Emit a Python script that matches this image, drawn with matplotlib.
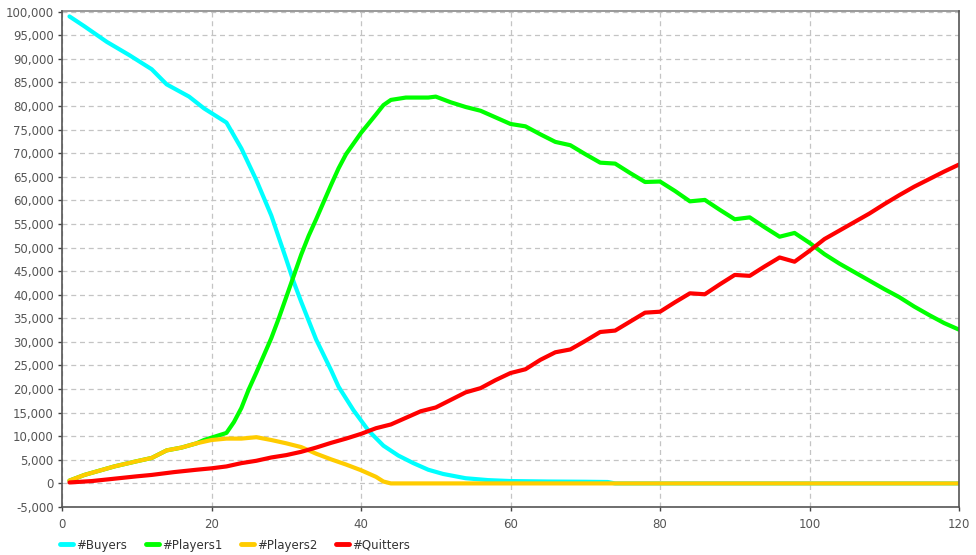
import matplotlib
matplotlib.use("Agg")
import matplotlib.pyplot as plt
from matplotlib.ticker import FuncFormatter, MultipleLocator

# ---- data ----
buyers_t = [1, 3, 6, 9, 12, 14, 17, 19, 22, 24, 26, 28, 30, 31, 32, 34, 36, 37, 39,
            41, 43, 45, 47, 49, 51, 54, 57, 60, 65, 70, 73, 74, 120]
buyers_v = [99000, 96900, 93600, 90800, 87800, 84600, 82000, 79500, 76500, 71000,
            64300, 56800, 47500, 42700, 38500, 30500, 24000, 20500, 15500,
            11200, 8000, 5900, 4300, 2900, 2000, 1100, 700, 500, 400, 350, 300, 0, 0]

players2_t = [1, 3, 5, 7, 10, 12, 14, 16, 18, 20, 22, 24, 26, 28, 30, 32, 34, 36, 38,
              40, 42, 43, 44, 120]
players2_v = [600, 1800, 2700, 3600, 4700, 5400, 7000, 7600, 8500, 9200, 9500, 9500,
              9800, 9200, 8500, 7700, 6300, 5100, 4000, 2800, 1400, 400, 0, 0]

players1_t = [1, 3, 5, 7, 10, 12, 14, 16, 18, 19, 20, 22, 23, 24, 25, 26, 28, 29, 30,
              31, 32, 33, 34, 36, 37, 38, 40, 42, 43, 44, 46, 49, 50, 52, 54, 56, 58,
              60, 62, 64, 66, 68, 70, 72, 74, 76, 78, 80, 82, 84, 86, 88, 90, 92, 94,
              96, 98, 100, 102, 104, 106, 108, 110, 112, 114, 116, 118, 120]
players1_v = [600, 1800, 2700, 3600, 4700, 5400, 7000, 7600, 8500, 9200, 9700, 10700,
              13000, 16000, 20000, 23500, 30800, 35000, 39500, 44000, 48500, 52500,
              56000, 63300, 66800, 69800, 74300, 78200, 80200, 81300, 81800, 81800,
              82000, 80800, 79800, 79000, 77600, 76200, 75700, 74000, 72400, 71700,
              69800, 68000, 67800, 65800, 63900, 64000, 62000, 59800, 60100, 58000,
              56000, 56400, 54300, 52300, 53100, 51000, 48600, 46600, 44800, 43000,
              41200, 39500, 37500, 35700, 34000, 32600]

quitters_t = [1, 4, 7, 10, 12, 15, 18, 20, 22, 24, 26, 28, 30, 32, 34, 36, 38, 40, 42,
              44, 46, 48, 50, 52, 54, 56, 58, 60, 62, 64, 66, 68, 70, 72, 74, 76, 78,
              80, 82, 84, 86, 88, 90, 92, 94, 96, 98, 100, 102, 104, 106, 108, 110,
              112, 114, 116, 118, 120]
quitters_v = [200, 500, 1000, 1500, 1800, 2400, 2900, 3200, 3600, 4300, 4800, 5500,
              6000, 6700, 7600, 8600, 9500, 10500, 11700, 12500, 13900, 15300, 16100,
              17700, 19300, 20200, 21900, 23400, 24200, 26200, 27800, 28400, 30200,
              32100, 32400, 34300, 36200, 36400, 38400, 40300, 40100, 42200, 44200,
              44000, 46000, 47900, 47000, 49300, 51800, 53600, 55400, 57200, 59200,
              61100, 62900, 64500, 66100, 67600]

series_names = ["#Buyers", "#Players1", "#Players2", "#Quitters"]
series_colors = ["#00FFFF", "#00FF00", "#FFCC00", "#FF0000"]

x_ticks = [0, 20, 40, 60, 80, 100, 120]

# ---- figure ----
fig = plt.figure(figsize=(9.76, 5.55), dpi=100)
ax = fig.add_axes([62 / 976, 1 - 507 / 555, (959 - 62) / 976, (507 - 11) / 555])

data = [(buyers_t, buyers_v), (players1_t, players1_v),
        (players2_t, players2_v), (quitters_t, quitters_v)]
for (t, v), name, col in zip(data, series_names, series_colors):
    ax.plot(t, v, color=col, lw=3.0, label=name, solid_capstyle="round",
            solid_joinstyle="round", zorder=3)

ax.set_xlim(0, 120)
ax.set_ylim(-5000, 100150)
ax.set_xticks(x_ticks)
ax.yaxis.set_major_locator(MultipleLocator(5000))
ax.yaxis.set_major_formatter(FuncFormatter(lambda v, p: f"{int(round(v)):,}"))

ax.set_axisbelow(True)
ax.grid(True, color="#c4c4c4", linestyle=(0, (4, 3)), linewidth=0.9)

ax.tick_params(axis="both", direction="out", length=3, width=1, color="#444444",
               labelcolor="#555555", labelsize=8.5, pad=3)
ax.tick_params(axis="x", pad=5)
for side in ["left", "bottom", "right"]:
    ax.spines[side].set_color("#555555")
    ax.spines[side].set_linewidth(1.2)
    ax.spines[side].set_zorder(4)
ax.spines["top"].set_color("#888888")
ax.spines["top"].set_linewidth(1.2)

handles, labels = ax.get_legend_handles_labels()
leg = fig.legend(handles, labels, loc="center left",
                 bbox_to_anchor=(60 / 976, 1 - 545 / 555), ncol=4, frameon=False,
                 fontsize=8.5, handlelength=1.1, handletextpad=0.25,
                 columnspacing=1.6, borderaxespad=0, borderpad=0)
for txt in leg.get_texts():
    txt.set_color("#333333")
for h in leg.legend_handles:
    h.set_linewidth(3.5)

fig.savefig("out.png", dpi=100)
